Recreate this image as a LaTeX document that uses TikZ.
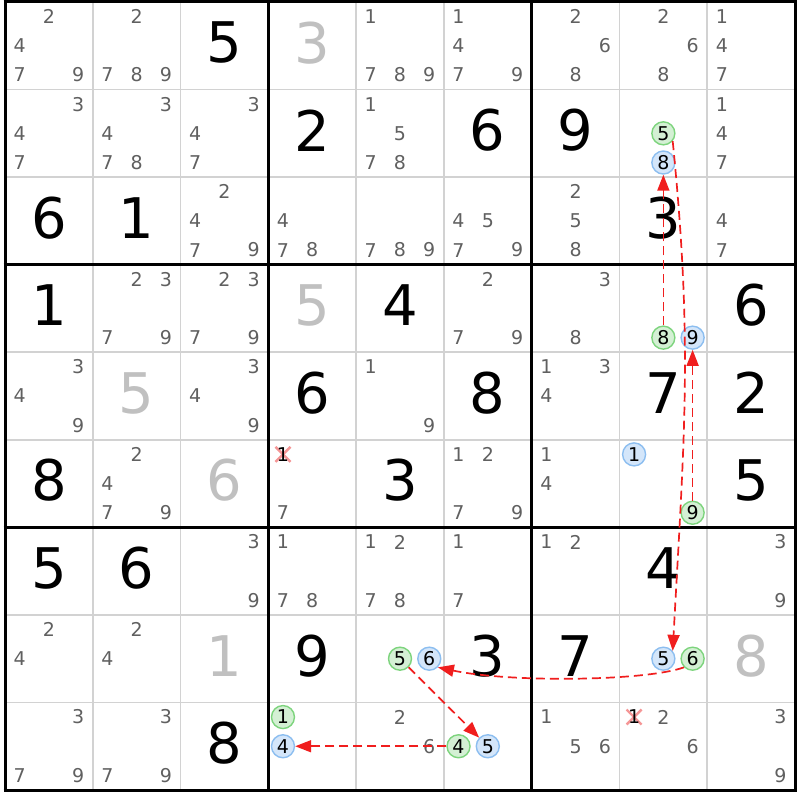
\documentclass[tikz,border=0pt]{standalone}
\usepackage{fontspec}
\setmainfont{DejaVu Sans}
\usetikzlibrary{arrows.meta}
\definecolor{candc}{RGB}{96,96,96}
\definecolor{solvc}{RGB}{192,192,192}
\definecolor{gfill}{RGB}{212,240,212}
\definecolor{gdraw}{RGB}{125,212,125}
\definecolor{bfill}{RGB}{212,230,250}
\definecolor{bdraw}{RGB}{140,190,240}
\definecolor{xcol}{RGB}{245,150,150}
\definecolor{linkc}{RGB}{240,30,30}
\definecolor{thinc}{RGB}{210,210,210}
\def\W{87.78}
\def\H{87.56}
\tikzset{
  cand/.style={font=\fontsize{19}{19}\selectfont, text=candc, inner sep=0pt, anchor=center},
  hl/.style={circle, minimum size=23pt, line width=1.4pt, text=black},
  gstyle/.style={hl, fill=gfill, draw=gdraw},
  bstyle/.style={hl, fill=bfill, draw=bdraw},
  big/.style={font=\fontsize{56}{56}\selectfont, inner sep=0pt, text=black},
  solvedstyle/.style={big, text=solvc},
  xmark/.style={draw=xcol, line width=2.4pt},
  thinline/.style={draw=thinc, line width=1.8pt},
  thickline/.style={draw=black, line width=3pt},
  link/.style={draw=linkc, line width=1.7pt, dash pattern=on 9pt off 5pt, -{Triangle[length=16pt,width=12pt]}}
}
\newcommand\cands[3]{%
  \foreach \p in {#3}{%
    \node[cand] (k#1#2\p) at ({5+(#2-1)*\W+(2*mod(\p-1,3)+1)*\W/6},{798-(#1-1)*\H-(2*int((\p-1)/3)+1)*\H/6}) {\p};}}
\newcommand\gcand[3]{%
  \node[cand,gstyle] (k#1#2#3) at ({5+(#2-1)*\W+(2*mod(#3-1,3)+1)*\W/6},{798-(#1-1)*\H-(2*int((#3-1)/3)+1)*\H/6}) {#3};}
\newcommand\bcand[3]{%
  \node[cand,bstyle] (k#1#2#3) at ({5+(#2-1)*\W+(2*mod(#3-1,3)+1)*\W/6},{798-(#1-1)*\H-(2*int((#3-1)/3)+1)*\H/6}) {#3};}
\newcommand\xcand[3]{%
  \coordinate (x#1#2#3) at ({5+(#2-1)*\W+(2*mod(#3-1,3)+1)*\W/6},{798-(#1-1)*\H-(2*int((#3-1)/3)+1)*\H/6});
  \draw[xmark] (x#1#2#3) +(-7.5,-7.5) -- +(7.5,7.5) +(-7.5,7.5) -- +(7.5,-7.5);
  \node[cand,text=black] (k#1#2#3) at (x#1#2#3) {#3};}
\newcommand\given[3]{%
  \node[big] (g#1#2) at ({5+(#2-0.5)*\W},{801-(#1-0.5)*\H}) {#3};}
\newcommand\solved[3]{%
  \node[solvedstyle] (g#1#2) at ({5+(#2-0.5)*\W},{801-(#1-0.5)*\H}) {#3};}
\begin{document}
\begin{tikzpicture}[x=1pt,y=1pt]
\fill[white] (0,0) rectangle (800,800);
\useasboundingbox (0,0) rectangle (800,800);
% grid
\foreach \i in {1,2,4,5,7,8}{
  \draw[thinline] ({5+\i*\W},798) -- ({5+\i*\W},{798-9*\H});
  \draw[thinline] (5,{798-\i*\H}) -- ({5+9*\W},{798-\i*\H});
}
\foreach \i in {0,3,6,9}{
  \draw[thickline] ({5+\i*\W},{798+1.5}) -- ({5+\i*\W},{798-9*\H-1.5});
  \draw[thickline] ({5-1.5},{798-\i*\H}) -- ({5+9*\W+1.5},{798-\i*\H});
}
% row 1
\cands{1}{1}{2,4,7,9} \cands{1}{2}{2,7,8,9} \given{1}{3}{5} \solved{1}{4}{3}
\cands{1}{5}{1,7,8,9} \cands{1}{6}{1,4,7,9} \cands{1}{7}{2,6,8} \cands{1}{8}{2,6,8} \cands{1}{9}{1,4,7}
% row 2
\cands{2}{1}{3,4,7} \cands{2}{2}{3,4,7,8} \cands{2}{3}{3,4,7} \given{2}{4}{2}
\cands{2}{5}{1,5,7,8} \given{2}{6}{6} \given{2}{7}{9} \gcand{2}{8}{5} \bcand{2}{8}{8} \cands{2}{9}{1,4,7}
% row 3
\given{3}{1}{6} \given{3}{2}{1} \cands{3}{3}{2,4,7,9} \cands{3}{4}{4,7,8}
\cands{3}{5}{7,8,9} \cands{3}{6}{4,5,7,9} \cands{3}{7}{2,5,8} \given{3}{8}{3} \cands{3}{9}{4,7}
% row 4
\given{4}{1}{1} \cands{4}{2}{2,3,7,9} \cands{4}{3}{2,3,7,9} \solved{4}{4}{5}
\given{4}{5}{4} \cands{4}{6}{2,7,9} \cands{4}{7}{3,8} \gcand{4}{8}{8} \bcand{4}{8}{9} \given{4}{9}{6}
% row 5
\cands{5}{1}{3,4,9} \solved{5}{2}{5} \cands{5}{3}{3,4,9} \given{5}{4}{6}
\cands{5}{5}{1,9} \given{5}{6}{8} \cands{5}{7}{1,3,4} \given{5}{8}{7} \given{5}{9}{2}
% row 6
\given{6}{1}{8} \cands{6}{2}{2,4,7,9} \solved{6}{3}{6} \xcand{6}{4}{1} \cands{6}{4}{7}
\given{6}{5}{3} \cands{6}{6}{1,2,7,9} \cands{6}{7}{1,4} \bcand{6}{8}{1} \gcand{6}{8}{9} \given{6}{9}{5}
% row 7
\given{7}{1}{5} \given{7}{2}{6} \cands{7}{3}{3,9} \cands{7}{4}{1,7,8}
\cands{7}{5}{1,2,7,8} \cands{7}{6}{1,7} \cands{7}{7}{1,2} \given{7}{8}{4} \cands{7}{9}{3,9}
% row 8
\cands{8}{1}{2,4} \cands{8}{2}{2,4} \solved{8}{3}{1} \given{8}{4}{9}
\gcand{8}{5}{5} \bcand{8}{5}{6} \given{8}{6}{3} \given{8}{7}{7} \bcand{8}{8}{5} \gcand{8}{8}{6} \solved{8}{9}{8}
% row 9
\cands{9}{1}{3,7,9} \cands{9}{2}{3,7,9} \given{9}{3}{8} \gcand{9}{4}{1} \bcand{9}{4}{4}
\cands{9}{5}{2,6} \gcand{9}{6}{4} \bcand{9}{6}{5} \cands{9}{7}{1,5,6} \xcand{9}{8}{1} \cands{9}{8}{2,6} \cands{9}{9}{3,9}
% links
\draw[link] (k285.-40) .. controls +(20,-200) and +(12,220) .. (k885.40);
\draw[link] (k689) -- (k489);
\draw[link] (k886.-135) .. controls +(-160:40) and +(-12:75) .. (k856.-45);
\draw[link] (k855) -- (k965);
\draw[link] (k964) -- (k944);
\draw[link] (k488.north) -- (k288.south);
\end{tikzpicture}
\end{document}
